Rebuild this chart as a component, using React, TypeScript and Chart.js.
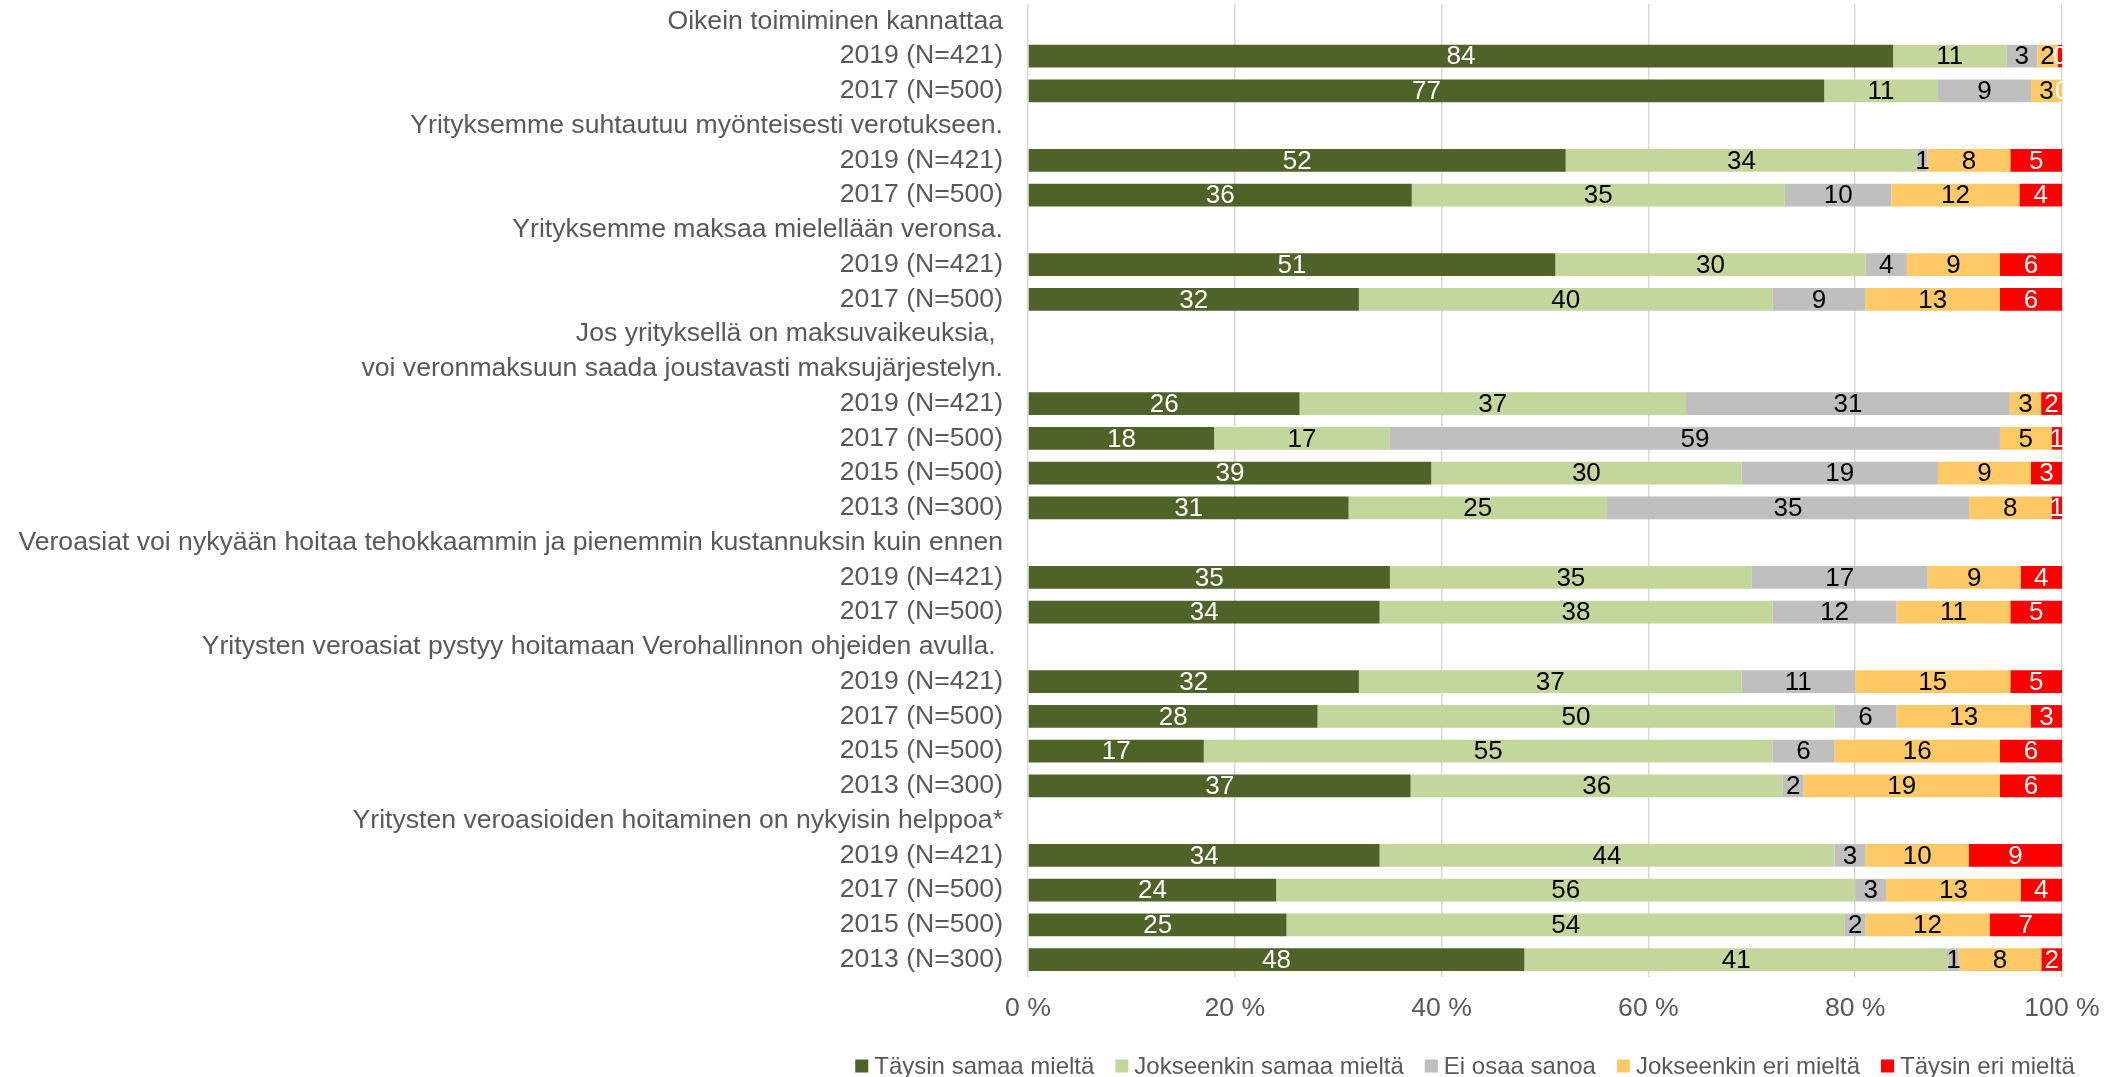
import React, { useEffect, useRef } from "react";
import { Chart, registerables } from "chart.js";

Chart.register(...registerables);

const categories: string[] = [
  "Oikein toimiminen kannattaa",
  "2019 (N=421)",
  "2017 (N=500)",
  "Yrityksemme suhtautuu myönteisesti verotukseen.",
  "2019 (N=421)",
  "2017 (N=500)",
  "Yrityksemme maksaa mielellään veronsa.",
  "2019 (N=421)",
  "2017 (N=500)",
  "Jos yrityksellä on maksuvaikeuksia, ",
  "voi veronmaksuun saada joustavasti maksujärjestelyn.",
  "2019 (N=421)",
  "2017 (N=500)",
  "2015 (N=500)",
  "2013 (N=300)",
  "Veroasiat voi nykyään hoitaa tehokkaammin ja pienemmin kustannuksin kuin ennen",
  "2019 (N=421)",
  "2017 (N=500)",
  "Yritysten veroasiat pystyy hoitamaan Verohallinnon ohjeiden avulla. ",
  "2019 (N=421)",
  "2017 (N=500)",
  "2015 (N=500)",
  "2013 (N=300)",
  "Yritysten veroasioiden hoitaminen on nykyisin helppoa*",
  "2019 (N=421)",
  "2017 (N=500)",
  "2015 (N=500)",
  "2013 (N=300)",
];

const seriesNames: string[] = [
  "Täysin samaa mieltä",
  "Jokseenkin samaa mieltä",
  "Ei osaa sanoa",
  "Jokseenkin eri mieltä",
  "Täysin eri mieltä",
];

const taysinSamaa: (number | null)[] = [
  null, 84, 77, null, 52, 36, null, 51, 32, null, null, 26, 18, 39, 31,
  null, 35, 34, null, 32, 28, 17, 37, null, 34, 24, 25, 48,
];
const jokseenkinSamaa: (number | null)[] = [
  null, 11, 11, null, 34, 35, null, 30, 40, null, null, 37, 17, 30, 25,
  null, 35, 38, null, 37, 50, 55, 36, null, 44, 56, 54, 41,
];
const eiOsaa: (number | null)[] = [
  null, 3, 9, null, 1, 10, null, 4, 9, null, null, 31, 59, 19, 35,
  null, 17, 12, null, 11, 6, 6, 2, null, 3, 3, 2, 1,
];
const jokseenkinEri: (number | null)[] = [
  null, 2, 3, null, 8, 12, null, 9, 13, null, null, 3, 5, 9, 8,
  null, 9, 11, null, 15, 13, 16, 19, null, 10, 13, 12, 8,
];
const taysinEri: (number | null)[] = [
  null, 0.4, 0, null, 5, 4, null, 6, 6, null, null, 2, 1, 3, 1,
  null, 4, 5, null, 5, 3, 6, 6, null, 9, 4, 7, 2,
];

const xTickValues: number[] = [0, 20, 40, 60, 80, 100];

const seriesValues = [taysinSamaa, jokseenkinSamaa, eiOsaa, jokseenkinEri, taysinEri];
const seriesColors = ["#4F6228", "#C3D69B", "#BFBFBF", "#FFCA66", "#FF0000"];
const labelColors = ["#FFFFFF", "#000000", "#000000", "#000000", "#FFFFFF"];

const FONT = "'Liberation Sans', Arial, Helvetica, sans-serif";
const TEXT_GRAY = "#595959";
const AXIS_FONT_SIZE = 26.6;
const LABEL_FONT_SIZE = 26;
const LEGEND_FONT_SIZE = 24;

const rowSums = categories.map((_, i) =>
  seriesValues.reduce((s, arr) => s + (arr[i] == null ? 0 : (arr[i] as number)), 0)
);

const segLabelPlugin = {
  id: "segLabels",
  afterDatasetsDraw(chart: any) {
    const { ctx, chartArea } = chart;
    ctx.save();
    ctx.beginPath();
    ctx.rect(chartArea.left, chartArea.top, chartArea.right - chartArea.left, chartArea.bottom - chartArea.top);
    ctx.clip();
    ctx.font = `${LABEL_FONT_SIZE}px ${FONT}`;
    ctx.textAlign = "center";
    ctx.textBaseline = "middle";
    chart.data.datasets.forEach((_ds: any, di: number) => {
      const meta = chart.getDatasetMeta(di);
      meta.data.forEach((bar: any, i: number) => {
        const raw = seriesValues[di][i];
        if (raw == null) return;
        const p = bar.getProps(["x", "base", "y"], true);
        ctx.fillStyle = labelColors[di];
        ctx.fillText(String(Math.round(raw)), (p.x + p.base) / 2, p.y + 1);
      });
    });
    ctx.restore();
  },
};

const legendPlugin = {
  id: "customLegend",
  afterDraw(chart: any) {
    const { ctx } = chart;
    ctx.save();
    ctx.font = `${LEGEND_FONT_SIZE}px ${FONT}`;
    ctx.textBaseline = "middle";
    ctx.textAlign = "left";
    const box = 13;
    const gapBox = 6;
    const gapItem = 21;
    const widths = seriesNames.map((n) => ctx.measureText(n).width);
    const total = widths.reduce((s, w) => s + box + gapBox + w, 0) + gapItem * (seriesNames.length - 1);
    const centerX = 1465;
    const cy = 1066;
    let x = centerX - total / 2;
    seriesNames.forEach((n, i) => {
      ctx.fillStyle = seriesColors[i];
      ctx.fillRect(x, cy - box / 2, box, box);
      x += box + gapBox;
      ctx.fillStyle = TEXT_GRAY;
      ctx.fillText(n, x, cy + 1);
      x += widths[i] + gapItem;
    });
    ctx.restore();
  },
};

export default function App() {
  const ref = useRef<HTMLCanvasElement | null>(null);

  useEffect(() => {
    if (!ref.current) return;
    Chart.defaults.font.family = FONT;
    const datasets = seriesNames.map((name, di) => ({
      label: name,
      data: seriesValues[di].map((v, i) => (v == null ? null : (v / rowSums[i]) * 100)),
      backgroundColor: seriesColors[di],
      borderWidth: 0,
      barPercentage: 0.65,
      categoryPercentage: 1,
    }));
    const chart = new Chart(ref.current, {
      type: "bar",
      data: { labels: categories, datasets },
      options: {
        indexAxis: "y",
        responsive: false,
        animation: false,
        layout: { padding: { left: 0, right: 49, top: 4, bottom: 0 } },
        plugins: {
          legend: { display: false },
          tooltip: { enabled: false },
          title: { display: false },
        },
        scales: {
          x: {
            stacked: true,
            min: 0,
            max: 100,
            afterFit: (scale: any) => {
              scale.height = 100;
              scale.paddingLeft = 0;
              scale.paddingRight = 0;
            },
            afterBuildTicks: (scale: any) => {
              scale.ticks = xTickValues.map((v) => ({ value: v }));
            },
            ticks: {
              callback: (v: any) => `${v} %`,
              font: { size: AXIS_FONT_SIZE, family: FONT },
              color: TEXT_GRAY,
              padding: 16,
              maxRotation: 0,
            },
            grid: { color: "#D9D9D9", lineWidth: 1.5, drawTicks: false },
            border: { display: false },
          },
          y: {
            stacked: true,
            afterFit: (scale: any) => {
              scale.width = 1028;
              scale.paddingTop = 0;
              scale.paddingBottom = 0;
            },
            ticks: {
              autoSkip: false,
              font: { size: AXIS_FONT_SIZE, family: FONT },
              color: TEXT_GRAY,
              padding: 25,
            },
            grid: { display: false, drawTicks: false },
            border: { display: false },
          },
        },
      },
      plugins: [segLabelPlugin, legendPlugin],
    } as any);
    return () => chart.destroy();
  }, []);

  return (
    <div style={{ position: "absolute", left: 0, top: 0, width: 2111, height: 1077, background: "#fff" }}>
      <canvas ref={ref} width={2111} height={1077} style={{ display: "block" }} />
    </div>
  );
}
